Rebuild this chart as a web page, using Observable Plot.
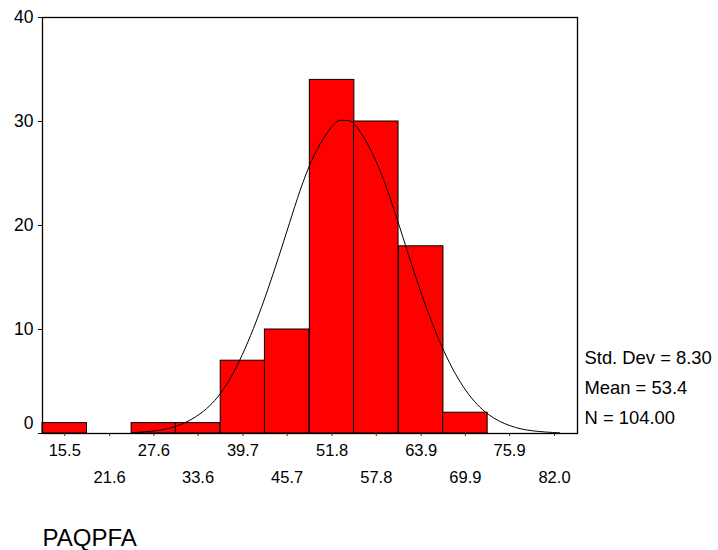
<!DOCTYPE html>
<html>
<head>
<meta charset="utf-8">
<script src="https://cdn.jsdelivr.net/npm/d3@7"></script>
<script src="https://cdn.jsdelivr.net/npm/@observablehq/plot@0.6"></script>
<style>
  html, body { margin: 0; padding: 0; background: #fff; }
  #chart svg { display: block; background: #fff; }
</style>
</head>
<body>
<div id="chart"></div>
<script>
// Histogram bins (centers = tick labels) and counts
const binCenters = [15.5, 21.6, 27.6, 33.6, 39.7, 45.7, 51.8, 57.8, 63.9, 69.9, 75.9, 82.0];
const binLabels = ["15.5", "21.6", "27.6", "33.6", "39.7", "45.7", "51.8", "57.8", "63.9", "69.9", "75.9", "82.0"];
const counts = [1, 0, 1, 1, 7, 10, 34, 30, 18, 2, 0, 0];

// Fitted normal curve
const curveX = [24.7, 28, 31, 34, 37, 40, 43, 46, 49, 52, 53.4, 55, 58, 61, 64, 67, 70, 73, 76, 79, 82.7];
const curveY = [0.08, 0.28, 0.79, 1.96, 4.2, 8.2, 13.7, 20.2, 26.2, 29.7, 30.1, 29.6, 25.8, 19.8, 13.3, 7.9, 4.1, 1.85, 0.74, 0.26, 0.06];

const yTicks = [0, 10, 20, 30, 40];
const statsLabels = ["Std. Dev = 8.30", "Mean = 53.4", "N = 104.00"];
const varName = "PAQPFA";

const n = binCenters.length;
const binWidth = (binCenters[n - 1] - binCenters[0]) / (n - 1);
const bars = binCenters
  .map((c, i) => ({x1: c - binWidth / 2, x2: c + binWidth / 2, count: counts[i]}))
  .filter(d => d.count > 0);
const curve = curveX.map((x, i) => ({x, y: curveY[i]}));
const labelRows = binCenters.map((c, i) => ({x: c, label: binLabels[i], row: i % 2}));

const font = "'Liberation Sans', Arial, Helvetica, sans-serif";
const fs = 16.5;
const fsStats = 18.4;

const chart = Plot.plot({
  width: 718,
  height: 550,
  marginLeft: 42,
  marginRight: 141,
  marginTop: 17,
  marginBottom: 117,
  style: {fontFamily: font, fontSize: fs + "px", color: "#000", background: "#fff"},
  x: {domain: [binCenters[0] - binWidth / 2, binCenters[n - 1] + binWidth / 2 + 0.1], axis: null},
  y: {domain: [0, 40], axis: null},
  marks: [
    Plot.rectY(bars, {x1: "x1", x2: "x2", y: "count", fill: "#ff0000", stroke: "#000", strokeWidth: 1}),
    Plot.line(curve, {x: "x", y: "y", curve: "natural", stroke: "#000", strokeWidth: 1}),
    Plot.frame({stroke: "#000", strokeWidth: 1.3}),
    Plot.axisY(yTicks, {tickSize: 4, tickFormat: () => "", stroke: "#000"}),
    Plot.text(yTicks.filter(d => d > 0), {y: d => d, frameAnchor: "left", dx: -9, textAnchor: "end", lineAnchor: "middle", fontSize: 17.5, fill: "#000"}),
    Plot.text(yTicks.filter(d => d === 0), {y: d => d, frameAnchor: "left", dx: -9, dy: -10, textAnchor: "end", lineAnchor: "middle", fontSize: 17.5, fill: "#000"}),
    Plot.axisX(binCenters, {tickSize: 3, tickFormat: () => "", stroke: "#333"}),
    Plot.text(labelRows.filter(d => d.row === 0), {x: "x", text: "label", frameAnchor: "bottom", dy: 22, lineAnchor: "bottom", textAnchor: "middle", fontSize: fs, fill: "#000"}),
    Plot.text(labelRows.filter(d => d.row === 1), {x: "x", text: "label", frameAnchor: "bottom", dy: 49, lineAnchor: "bottom", textAnchor: "middle", fontSize: fs, fill: "#000"}),
    Plot.text([statsLabels.join("\n")], {frameAnchor: "bottom-right", dx: 7, dy: -9.7, textAnchor: "start", lineAnchor: "bottom", lineHeight: 30 / fsStats, fontSize: fsStats, fill: "#000"}),
    Plot.text([varName], {frameAnchor: "bottom-left", dy: 112, textAnchor: "start", lineAnchor: "bottom", fontSize: 24, fill: "#000"})
  ]
});
document.getElementById("chart").appendChild(chart);
</script>
</body>
</html>
